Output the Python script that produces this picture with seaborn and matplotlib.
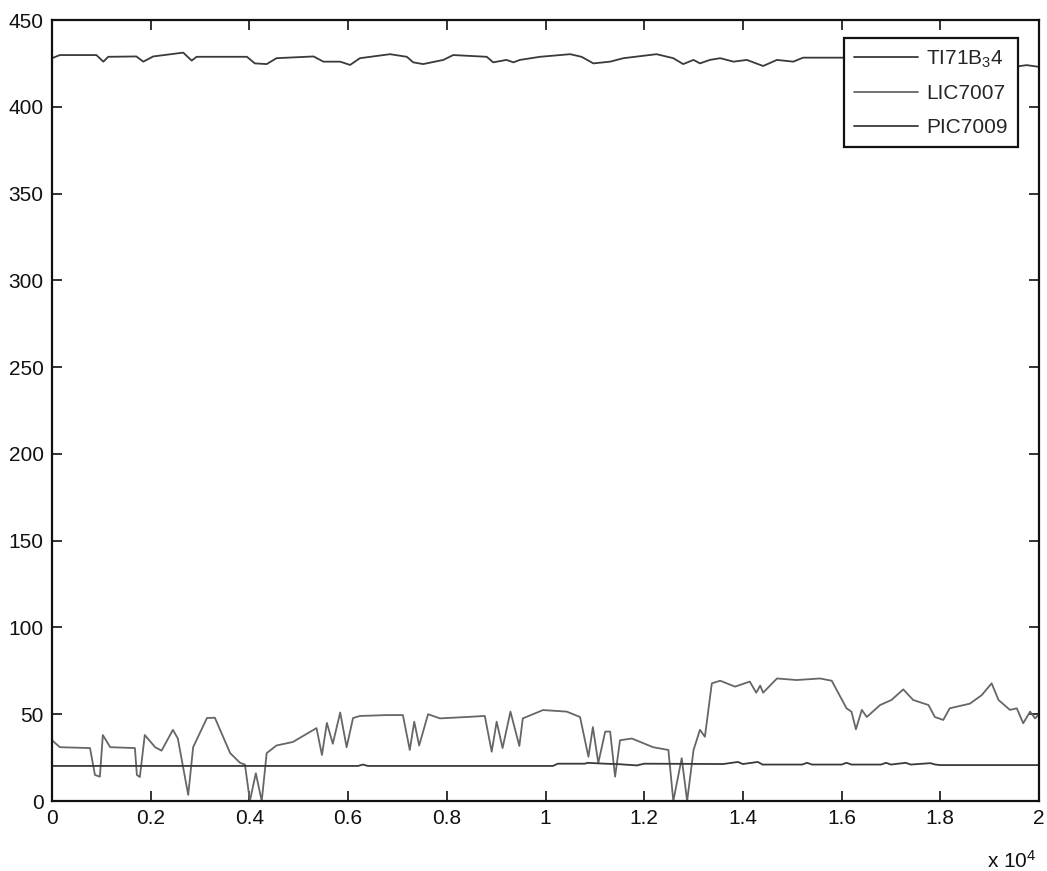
import numpy as np
import pandas as pd
import matplotlib
matplotlib.use("Agg")
import matplotlib.pyplot as plt
from matplotlib.ticker import FuncFormatter
import seaborn as sns

# ---- series data (sample index, value) ----
ti_x = [0, 160, 900, 1040, 1140, 1710, 1850, 2050, 2660, 2830, 2930, 3950, 4110,
        4350, 4550, 5300, 5500, 5840, 6040, 6240, 6850, 7190, 7320, 7520, 7930,
        8130, 8810, 8940, 9210, 9350, 9480, 9890, 10500, 10730, 10970, 11310,
        11580, 12250, 12590, 12790, 13000, 13130, 13330, 13540, 13810, 14080,
        14410, 14690, 15020, 15220, 16000, 17500, 19300, 19500, 19750, 20000]
ti_y = [428, 429.8, 429.8, 426, 428.8, 429, 426, 429, 431.2, 426.6, 428.8, 428.8,
        425, 424.6, 428, 429, 426, 426, 424.1, 428, 430.3, 428.8, 425.6, 424.6,
        427, 429.8, 428.8, 425.6, 427, 425.6, 427, 428.8, 430.3, 428.8, 425, 426,
        428, 430.3, 428, 424.6, 427, 425, 427, 428, 426, 427, 423.5, 427, 426,
        428.3, 428.3, 428.3, 428, 423, 424, 423]

lic_x = [0, 160, 770, 870, 970, 1030, 1180, 1680, 1720, 1780, 1880, 2090, 2220,
         2450, 2550, 2760, 2860, 3140, 3300, 3610, 3810, 3910, 4010, 4130, 4250,
         4350, 4550, 4880, 5360, 5470, 5570, 5690, 5840, 5970, 6100, 6240, 6780,
         7110, 7250, 7340, 7440, 7620, 7860, 8400, 8770, 8910, 9010, 9130, 9290,
         9470, 9540, 9950, 10430, 10700, 10870, 10960, 11070, 11210, 11310, 11410,
         11510, 11750, 12180, 12490, 12590, 12760, 12870, 13000, 13130, 13230,
         13370, 13540, 13840, 14140, 14270, 14350, 14410, 14690, 15090, 15560,
         15800, 16100, 16200, 16290, 16410, 16510, 16780, 17010, 17250, 17450,
         17760, 17890, 18060, 18190, 18600, 18840, 19040, 19180, 19410, 19550,
         19680, 19820, 19920, 20000]
lic_y = [35, 31, 30.5, 15, 14, 38, 31, 30.5, 15, 13.8, 38, 31, 29, 41, 36, 3.5,
         31, 47.8, 48, 27.6, 22, 21, 0, 16, 0, 27.6, 32, 34, 42, 26.5, 45, 33, 51,
         31, 47.8, 49, 49.5, 49.5, 29.4, 45.7, 32, 50, 47.6, 48.4, 49, 28.4, 45.7,
         30.5, 51.5, 31.7, 47.6, 52.4, 51.5, 48.4, 25.5, 42.6, 21.9, 40, 40, 14,
         35, 36, 31, 29.4, 0, 24.7, 0, 29.4, 41, 37, 67.8, 69.3, 65.9, 68.8, 62.4,
         66.5, 62.4, 70.6, 69.7, 70.6, 69.3, 53.4, 51.5, 41.3, 52.5, 48.4, 55.3,
         58.2, 64.3, 58.2, 55.3, 48.4, 46.7, 53.4, 56.1, 61, 67.8, 58.2, 52.5,
         53.4, 44.8, 51.5, 47.6, 50]

pic_x = [0, 6200, 6300, 6400, 10150, 10250, 10800, 10850, 11200, 11500, 11850,
         12000, 13600, 13900, 14000, 14300, 14400, 15200, 15300, 15400, 16000,
         16100, 16200, 16800, 16900, 17000, 17300, 17400, 17800, 17900, 18000,
         20000]
pic_y = [20.2, 20.2, 21, 20.2, 20.2, 21.5, 21.5, 22, 21.5, 21.2, 20.5, 21.5, 21.3,
         22.5, 21.3, 22.5, 21, 21, 22, 21, 21, 22, 21, 21, 22, 21, 22, 21, 21.8,
         21, 20.7, 20.7]

series_names = ["TI71B$_3$4", "LIC7007", "PIC7009"]
series_colors = ["#3a3a3a", "#666666", "#3a3a3a"]

x_ticks = [0, 2000, 4000, 6000, 8000, 10000, 12000, 14000, 16000, 18000, 20000]
y_ticks = [0, 50, 100, 150, 200, 250, 300, 350, 400, 450]

# ---- style ----
sns.set_style("white")
plt.rcParams["font.family"] = ["Liberation Sans", "DejaVu Sans"]
plt.rcParams["mathtext.fontset"] = "custom"
plt.rcParams["mathtext.rm"] = "Liberation Sans"
plt.rcParams["mathtext.it"] = "Liberation Sans"

fig = plt.figure(figsize=(10.47, 8.71), dpi=100)
ax = fig.add_axes([52 / 1047, 70 / 871, 987 / 1047, 781 / 871])

frames = [
    pd.DataFrame({"x": ti_x, "y": ti_y}),
    pd.DataFrame({"x": lic_x, "y": lic_y}),
    pd.DataFrame({"x": pic_x, "y": pic_y}),
]
for df, name, col in zip(frames, series_names, series_colors):
    sns.lineplot(data=df, x="x", y="y", ax=ax, color=col, linewidth=1.3,
                 label=name, estimator=None, sort=False)

ax.set_xlim(0, 20000)
ax.set_ylim(0, 450)
ax.set_xticks(x_ticks)
ax.set_yticks(y_ticks)
ax.xaxis.set_major_formatter(FuncFormatter(lambda v, p: f"{v / 1e4:g}"))
ax.set_xlabel("")
ax.set_ylabel("")

for s in ax.spines.values():
    s.set_color("#111111")
    s.set_linewidth(1.6)
    s.set_visible(True)

ax.tick_params(axis="both", which="major", direction="in", length=7, width=1.2,
               top=True, right=True, bottom=True, left=True,
               labelsize=15, colors="#111111", pad=6)

# exponent label under the x axis
ax.text(0.997, -0.062, r"x 10$^{4}$", transform=ax.transAxes, ha="right",
        va="top", fontsize=15, color="#111111")

leg = ax.legend(loc="upper right", bbox_to_anchor=(0.9787, 0.977),
                borderaxespad=0, fancybox=False, shadow=False, framealpha=1,
                edgecolor="#111111", fontsize=15, handlelength=3.05,
                handletextpad=0.4, labelspacing=0.7, borderpad=0.5)
leg.get_frame().set_linewidth(1.6)

fig.savefig("out.png", dpi=100, facecolor="white")
